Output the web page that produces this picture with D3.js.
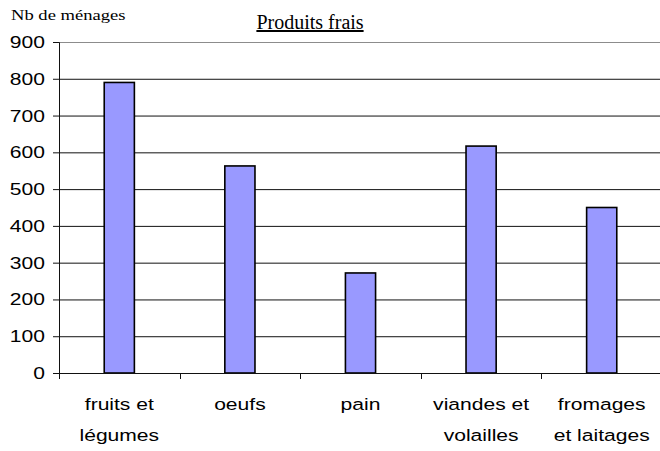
<!DOCTYPE html>
<html>
<head>
<meta charset="utf-8">
<script src="https://cdn.jsdelivr.net/npm/d3@7"></script>
<style>
  body { margin: 0; background: #fff; }
</style>
</head>
<body>
<div id="chart"></div>
<script>
// Produits frais - bar chart

const categories = [
  ["fruits et", "légumes"],
  ["oeufs"],
  ["pain"],
  ["viandes et", "volailles"],
  ["fromages", "et laitages"]
];
const values = [790, 563, 272, 617, 450];
const yTicks = [0, 100, 200, 300, 400, 500, 600, 700, 800, 900];

const width = 660, height = 451;
const margin = { top: 42, right: 0, bottom: 78, left: 59 };
const innerW = width - margin.left - margin.right;
const innerH = height - margin.top - margin.bottom;
const stretch = 1.24; // text in the picture is drawn wider than normal

const svg = d3.select("#chart")
  .append("svg")
  .attr("width", width)
  .attr("height", height);

const g = svg.append("g")
  .attr("transform", `translate(${margin.left},${margin.top})`);

// Scales
const xScale = d3.scaleBand()
  .domain(d3.range(categories.length))
  .range([0, innerW + 2])
  .paddingInner(0.75)
  .paddingOuter(0.375);

const yScale = d3.scaleLinear()
  .domain([0, 900])
  .range([innerH, 0]);

// Gridlines
g.selectAll(".grid")
  .data(yTicks.filter(d => d > 0))
  .enter()
  .append("line")
  .attr("x1", 0)
  .attr("x2", innerW)
  .attr("y1", d => yScale(d) + 0.5)
  .attr("y2", d => yScale(d) + 0.5)
  .attr("stroke", d => d === 900 ? "#8c8c8c" : "#111")
  .attr("stroke-width", 1);

// Bars
g.selectAll(".bar")
  .data(values)
  .enter()
  .append("rect")
  .attr("x", (d, i) => xScale(i))
  .attr("y", d => yScale(d))
  .attr("width", xScale.bandwidth())
  .attr("height", d => innerH - yScale(d))
  .attr("fill", "#9999ff")
  .attr("stroke", "#000")
  .attr("stroke-width", 1.6);

// Y axis
const yAxis = g.append("g")
  .call(d3.axisLeft(yScale).tickValues(yTicks).tickSize(6).tickPadding(7));
yAxis.select(".domain").attr("stroke", "#111");
yAxis.selectAll(".tick line").attr("stroke", "#111");
yAxis.selectAll("text")
  .attr("font-family", "Liberation Sans, Arial, sans-serif")
  .attr("font-size", 17)
  .attr("fill", "#000")
  .attr("x", -14 / stretch)
  .attr("transform", `scale(${stretch},1)`);

// X axis
const step = xScale.step();
const xAxis = g.append("g")
  .attr("transform", `translate(0,${innerH})`);
xAxis.append("line")
  .attr("x1", 0).attr("x2", innerW)
  .attr("y1", 0.5).attr("y2", 0.5)
  .attr("stroke", "#111");
xAxis.selectAll(".xtick")
  .data(d3.range(categories.length + 1))
  .enter()
  .append("line")
  .attr("x1", d => Math.round(d * step) + 0.5)
  .attr("x2", d => Math.round(d * step) + 0.5)
  .attr("y1", 0)
  .attr("y2", 6)
  .attr("stroke", "#111");

const labels = xAxis.selectAll(".xlabel")
  .data(categories)
  .enter()
  .append("g")
  .attr("transform", (d, i) => `translate(${xScale(i) + xScale.bandwidth() / 2},37) scale(${stretch},1)`)
  .append("text")
  .attr("text-anchor", "middle")
  .attr("font-family", "Liberation Sans, Arial, sans-serif")
  .attr("font-size", 17)
  .attr("fill", "#000");

labels.selectAll("tspan")
  .data(d => d)
  .enter()
  .append("tspan")
  .attr("x", 0)
  .attr("dy", (d, i) => i === 0 ? 0 : 31)
  .text(d => d);

// Titles
svg.append("g")
  .attr("transform", `translate(11,20) scale(${stretch},1)`)
  .append("text")
  .attr("font-family", "Liberation Serif, Times New Roman, serif")
  .attr("font-size", 15)
  .attr("fill", "#000")
  .text("Nb de ménages");

svg.append("text")
  .attr("x", 310)
  .attr("y", 29)
  .attr("text-anchor", "middle")
  .attr("font-family", "Liberation Serif, Times New Roman, serif")
  .attr("font-size", 20)
  .attr("text-decoration", "underline")
  .attr("fill", "#000")
  .text("Produits frais");
</script>
</body>
</html>
